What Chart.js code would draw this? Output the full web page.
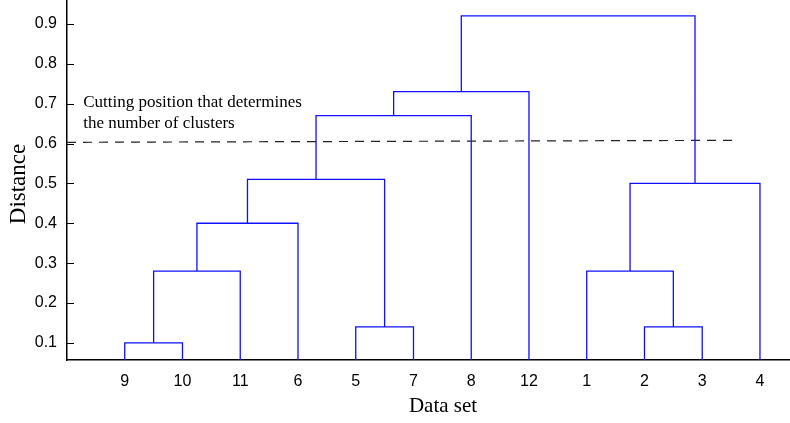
<!DOCTYPE html>
<html>
<head>
<meta charset="utf-8">
<script src="https://cdn.jsdelivr.net/npm/chart.js@4.4.1/dist/chart.umd.min.js"></script>
<style>
  html, body { margin: 0; padding: 0; background: #fff; }
  #wrap { width: 790px; height: 423px; }
</style>
</head>
<body>
<div id="wrap"><canvas id="dendro" width="790" height="423"></canvas></div>
<script>
// leaves in dendrogram order, left to right
const leafLabels = ['9', '10', '11', '6', '5', '7', '8', '12', '1', '2', '3', '4'];
// merges: [left node, right node, distance]; nodes 0-11 are leaves, merge k becomes node 12+k
const mergeLeft = [0, 12, 13, 4, 14, 16, 17, 9, 8, 20, 18];
const mergeRight = [1, 2, 3, 5, 15, 6, 7, 10, 19, 11, 21];
const mergeHeight = [0.10, 0.28, 0.40, 0.14, 0.51, 0.67, 0.73, 0.14, 0.28, 0.50, 0.92];
const yTicks = [0.1, 0.2, 0.3, 0.4, 0.5, 0.6, 0.7, 0.8, 0.9];
// dashed cut line
const cutX = [0, 11.52];
const cutY = [0.603, 0.608];
const cutNote = ['Cutting position that determines', 'the number of clusters'];

function buildLinks() {
  const nodeX = leafLabels.map((_, i) => i + 1);
  const nodeH = leafLabels.map(() => 0);
  const sets = [];
  mergeHeight.forEach((h, k) => {
    const a = mergeLeft[k], b = mergeRight[k];
    sets.push({
      data: [
        { x: nodeX[a], y: nodeH[a] },
        { x: nodeX[a], y: h },
        { x: nodeX[b], y: h },
        { x: nodeX[b], y: nodeH[b] }
      ],
      showLine: true,
      borderColor: '#1010ff',
      borderWidth: 1.3,
      pointRadius: 0,
      tension: 0
    });
    nodeX.push((nodeX[a] + nodeX[b]) / 2);
    nodeH.push(h);
  });
  return sets;
}

const datasets = buildLinks();
datasets.push({
  data: cutX.map((x, i) => ({ x: x, y: cutY[i] })),
  showLine: true,
  borderColor: '#222',
  borderWidth: 1.2,
  borderDash: [9, 7],
  pointRadius: 0
});

const textPlugin = {
  id: 'texts',
  afterDraw(chart) {
    const ctx = chart.ctx;
    const xs = chart.scales.x, ys = chart.scales.y;
    ctx.save();
    // inward y tick marks
    ctx.strokeStyle = '#000';
    ctx.lineWidth = 1;
    yTicks.forEach(v => {
      const py = Math.round(ys.getPixelForValue(v)) + 0.5;
      ctx.beginPath();
      ctx.moveTo(xs.left, py);
      ctx.lineTo(xs.left + 7, py);
      ctx.stroke();
    });
    ctx.fillStyle = '#000';
    // note above the cut line
    ctx.font = '17px "Liberation Serif", serif';
    ctx.textAlign = 'left';
    ctx.textBaseline = 'alphabetic';
    ctx.fillText(cutNote[0], xs.getPixelForValue(0.28), ys.getPixelForValue(0.692));
    ctx.fillText(cutNote[1], xs.getPixelForValue(0.28), ys.getPixelForValue(0.638));
    // axis titles
    ctx.font = '21px "Liberation Serif", serif';
    ctx.textAlign = 'center';
    ctx.fillText('Data set', 443, 412);
    ctx.translate(25, 184);
    ctx.rotate(-Math.PI / 2);
    ctx.font = '23px "Liberation Serif", serif';
    ctx.fillText('Distance', 0, 0);
    ctx.restore();
  }
};

new Chart(document.getElementById('dendro'), {
  type: 'scatter',
  data: { datasets: datasets },
  options: {
    responsive: false,
    animation: false,
    layout: { padding: 0 },
    plugins: { legend: { display: false }, tooltip: { enabled: false } },
    scales: {
      x: {
        type: 'linear',
        min: 0,
        max: 12.52,
        afterBuildTicks: s => { s.ticks = leafLabels.map((_, i) => ({ value: i + 1 })); },
        afterFit: s => { s.height = 63; s.paddingLeft = 0; s.paddingRight = 0; },
        grid: { display: false, drawTicks: false },
        border: { display: true, color: '#000', width: 1.5 },
        ticks: {
          padding: 12,
          color: '#000',
          font: { family: '"Liberation Sans", Arial', size: 16 },
          callback: v => leafLabels[v - 1]
        }
      },
      y: {
        min: 0.057,
        max: 0.96,
        afterBuildTicks: s => { s.ticks = yTicks.map(v => ({ value: v })); },
        afterFit: s => { s.width = 67; s.paddingTop = 0; s.paddingBottom = 0; },
        grid: { display: false, drawTicks: false },
        border: { display: true, color: '#000', width: 1.5 },
        ticks: {
          padding: 10,
          color: '#000',
          font: { family: '"Liberation Sans", Arial', size: 16 },
          callback: v => v.toFixed(1)
        }
      }
    }
  },
  plugins: [textPlugin]
});
</script>
</body>
</html>
